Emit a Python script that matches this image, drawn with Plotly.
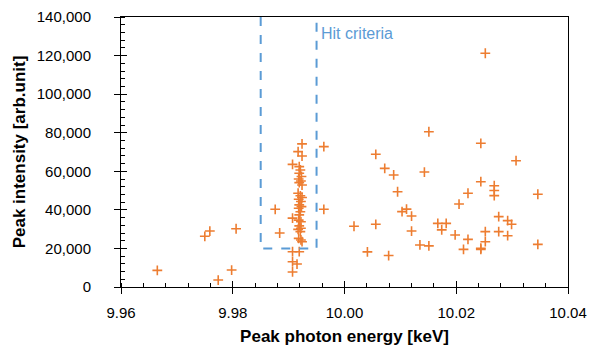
import plotly.graph_objects as go

# Peak photon energy [keV]
energy = [
    9.9665, 9.9750, 9.9759, 9.9774, 9.9798, 9.9806, 9.9876, 9.9884,
    # cluster column
    9.9924, 9.9917, 9.9924, 9.9907, 9.9919, 9.9921, 9.9919, 9.9923, 9.9918, 9.9922,
    9.9919, 9.9924, 9.9917, 9.9921, 9.9924, 9.9918, 9.9922, 9.9919, 9.9923, 9.9918,
    9.9921, 9.9919, 9.9907, 9.9918, 9.9922, 9.9919, 9.9922, 9.9917, 9.9921, 9.9918,
    9.9922, 9.9924, 9.9907, 9.9919, 9.9907, 9.9915, 9.9907,
    # right side
    9.9963, 9.9963, 10.0017, 10.0041, 10.0056, 10.0056, 10.0072, 10.0079, 10.0088,
    10.0095, 10.0103, 10.0111, 10.0120, 10.0120, 10.0135, 10.0143, 10.0151, 10.0151,
    10.0167, 10.0174, 10.0182, 10.0198, 10.0205, 10.0213, 10.0221, 10.0221, 10.0244,
    10.0244, 10.0244, 10.0244, 10.0252, 10.0252, 10.0252, 10.0268, 10.0268, 10.0268,
    10.0276, 10.0276, 10.0292, 10.0292, 10.0299, 10.0307, 10.0346, 10.0346,
]

# Peak intensity [arb.unit]
intensity = [
    8600, 26300, 29000, 3600, 8800, 30200, 40300, 28000,
    74200, 70200, 67900, 63600, 62400, 60700, 59000, 57300, 56000, 55000,
    54100, 52900, 48600, 47300, 46400, 45500, 44300, 42600, 41700, 40800,
    39000, 37400, 35700, 34700, 33800, 31700, 30500, 29900, 28700, 25200,
    24400, 23500, 18300, 18300, 13100, 11900, 7800,
    72800, 40300, 31500, 18200, 68800, 32500, 61500, 16300, 58100,
    49400, 39100, 40400, 36800, 29000, 21800, 59600, 21300, 80500,
    33000, 29600, 33000, 27000, 43000, 19500, 48600, 24700, 74500,
    54600, 20100, 19500, 28700, 23500, 121200, 52500, 50000, 47400,
    36500, 28700, 34400, 26600, 32500, 65500, 48100, 22100,
]

# Hit criteria window
hit_energy = [9.985, 9.995]
hit_min_intensity = 20000
hit_max_intensity = 140000

x_range = [9.96, 10.04]
y_range = [0, 140000]
x_ticks = [9.96, 9.98, 10.00, 10.02, 10.04]
x_ticktext = ["9.96", "9.98", "10.00", "10.02", "10.04"]

orange = "#ED7D31"
blue = "#5B9BD5"
font_family = "Liberation Sans, Arial, sans-serif"

fig = go.Figure()
fig.add_trace(go.Scatter(
    x=energy, y=intensity, mode="markers",
    marker=dict(symbol="cross-thin", size=7, color=orange,
                line=dict(color=orange, width=1.6)),
    showlegend=False, hoverinfo="x+y",
))
# empty trace on overlay axes (used only for the inner half of the crossing major ticks)
fig.add_trace(go.Scatter(x=[], y=[], xaxis="x2", yaxis="y2", showlegend=False,
                         hoverinfo="skip"))

# dashed hit-criteria box (open at the top, which is the plot border)
fig.add_shape(
    type="path", xref="x", yref="y",
    path=(f"M {hit_energy[0]},{hit_max_intensity} L {hit_energy[0]},{hit_min_intensity} "
          f"L {hit_energy[1]},{hit_min_intensity} L {hit_energy[1]},{hit_max_intensity}"),
    line=dict(color=blue, width=2, dash="dash"), layer="above",
)
fig.add_annotation(
    x=hit_energy[1], y=131500, xref="x", yref="y", text="Hit criteria",
    showarrow=False, xanchor="left", yanchor="middle", xshift=2,
    font=dict(family=font_family, size=16, color=blue),
)

axis_common = dict(
    showgrid=False, zeroline=False, showline=True, linecolor="black",
    linewidth=1, mirror=True, ticks="outside", ticklen=6, tickcolor="black",
    tickwidth=1, automargin=False,
    tickfont=dict(family=font_family, size=15, color="black"),
)

fig.update_layout(
    width=591, height=350,
    margin=dict(l=121, r=23, t=17, b=63),
    plot_bgcolor="white", paper_bgcolor="white",
    xaxis=dict(
        range=x_range, tickvals=x_ticks, ticktext=x_ticktext,
        ticklabelstandoff=6,
        minor=dict(dtick=0.004, ticks="inside", ticklen=4, tickcolor="black", tick0=9.96),
        title=dict(text="<b>Peak photon energy [keV]</b>", standoff=10,
                   font=dict(family=font_family, size=17, color="black")),
        **axis_common,
    ),
    yaxis=dict(
        range=y_range, dtick=20000, tickformat=",d",
        ticklabelstandoff=20,
        minor=dict(dtick=4000, ticks="inside", ticklen=4, tickcolor="black"),
        title=dict(text="<b>Peak intensity [arb.unit]</b>", standoff=6,
                   font=dict(family=font_family, size=17, color="black")),
        **axis_common,
    ),
    xaxis2=dict(
        overlaying="x", anchor="y2", side="bottom", range=x_range,
        tickvals=x_ticks, showticklabels=False, ticks="inside", ticklen=6,
        tickcolor="black", showgrid=False, zeroline=False, showline=False,
        automargin=False,
    ),
    yaxis2=dict(
        overlaying="y", anchor="x2", side="left", range=y_range, dtick=20000,
        showticklabels=False, ticks="inside", ticklen=6, tickcolor="black",
        showgrid=False, zeroline=False, showline=False, automargin=False,
    ),
)

fig.write_html("out.html")
